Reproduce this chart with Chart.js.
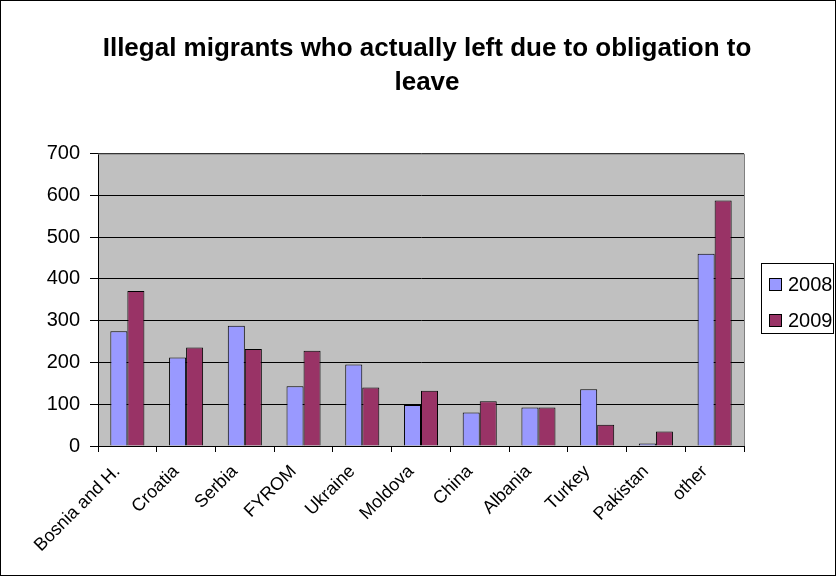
<!DOCTYPE html>
<html>
<head>
<meta charset="utf-8">
<script src="https://cdn.jsdelivr.net/npm/chart.js@4/dist/chart.umd.min.js"></script>
<style>
  html, body { margin: 0; padding: 0; background: #fff; }
  #wrap { width: 836px; height: 576px; }
</style>
</head>
<body>
<div id="wrap"><canvas id="migrantsChart" width="836" height="576"></canvas></div>
<script>
const countries = ['Bosnia and H.', 'Croatia', 'Serbia', 'FYROM', 'Ukraine', 'Moldova',
                   'China', 'Albania', 'Turkey', 'Pakistan', 'other'];
const left2008 = [275, 212, 288, 143, 195, 98, 80, 92, 136, 6, 460];
const left2009 = [371, 236, 232, 228, 140, 132, 107, 92, 51, 35, 588];
const yTicks = [0, 100, 200, 300, 400, 500, 600, 700];

const FONT = 'Arial, "Liberation Sans", sans-serif';

// grey plot background, plot frame, boxed legend and outer border
const excelLook = {
  id: 'excelLook',
  beforeDraw(chart) {
    const { ctx, chartArea: a } = chart;
    ctx.save();
    ctx.fillStyle = '#ffffff';
    ctx.fillRect(0, 0, chart.width, chart.height);
    ctx.fillStyle = '#c0c0c0';
    ctx.fillRect(a.left, a.top, a.right - a.left, a.bottom - a.top);
    ctx.restore();
  },
  afterDraw(chart) {
    const { ctx, chartArea: a } = chart;
    ctx.save();
    ctx.lineWidth = 1;
    ctx.strokeStyle = '#808080';
    ctx.beginPath();
    ctx.moveTo(a.left, a.top + 0.5);
    ctx.lineTo(a.right + 0.5, a.top + 0.5);
    ctx.lineTo(a.right + 0.5, a.bottom);
    ctx.stroke();

    // legend
    const lx = a.right + 17, ly = 263, lw = 72, lh = 70;
    ctx.strokeStyle = '#000';
    ctx.strokeRect(lx + 0.5, ly + 0.5, lw, lh);
    ctx.font = '20px ' + FONT;
    ctx.textBaseline = 'middle';
    ctx.textAlign = 'left';
    chart.data.datasets.forEach((ds, i) => {
      const cy = ly + 21 + i * 36;
      ctx.fillStyle = ds.backgroundColor;
      ctx.fillRect(lx + 8, cy - 6, 13, 13);
      ctx.strokeRect(lx + 8.5, cy - 5.5, 12, 12);
      ctx.fillStyle = '#000';
      ctx.fillText(ds.label, lx + 27, cy + 1);
    });

    ctx.strokeRect(0.5, 0.5, chart.width - 1, chart.height - 1);
    ctx.restore();
  }
};

new Chart(document.getElementById('migrantsChart'), {
  type: 'bar',
  data: {
    labels: countries,
    datasets: [
      { label: '2008', data: left2008, backgroundColor: '#9999ff', borderColor: '#000000', borderWidth: 1 },
      { label: '2009', data: left2009, backgroundColor: '#993366', borderColor: '#000000', borderWidth: 1 }
    ]
  },
  options: {
    responsive: false,
    animation: false,
    layout: { padding: { left: 20, right: 2, top: 10, bottom: 0 } },
    datasets: { bar: { barPercentage: 1, categoryPercentage: 0.58 } },
    plugins: {
      title: {
        display: true,
        text: ['Illegal migrants who actually left due to obligation to', 'leave'],
        color: '#000',
        font: { family: FONT, size: 26, weight: 'bold', lineHeight: 1.3 },
        padding: { top: 22, bottom: 54 }
      },
      legend: { display: false },
      tooltip: { enabled: false }
    },
    scales: {
      x: {
        offset: true,
        grid: { offset: true, drawOnChartArea: false, color: '#000', tickLength: 6 },
        border: { color: '#000', width: 1 },
        ticks: {
          color: '#000', minRotation: 45, maxRotation: 45, padding: 9, labelOffset: -10,
          font: { family: FONT, size: 18 }
        },
        afterFit(scale) { scale.height = 130; }
      },
      y: {
        min: 0, max: 700,
        afterBuildTicks(scale) { scale.ticks = yTicks.map(v => ({ value: v })); },
        grid: { color: '#000', tickLength: 8 },
        border: { color: '#000', width: 1 },
        ticks: {
          color: '#000', padding: 10,
          font: { family: FONT, size: 20 }
        },
        afterFit(scale) { scale.width = 78; }
      },
      // empty space on the right that holds the legend
      legendSpace: {
        type: 'linear', position: 'right',
        grid: { display: false }, border: { display: false },
        ticks: { display: false },
        afterFit(scale) { scale.width = 90; }
      }
    }
  },
  plugins: [excelLook]
});
</script>
</body>
</html>
